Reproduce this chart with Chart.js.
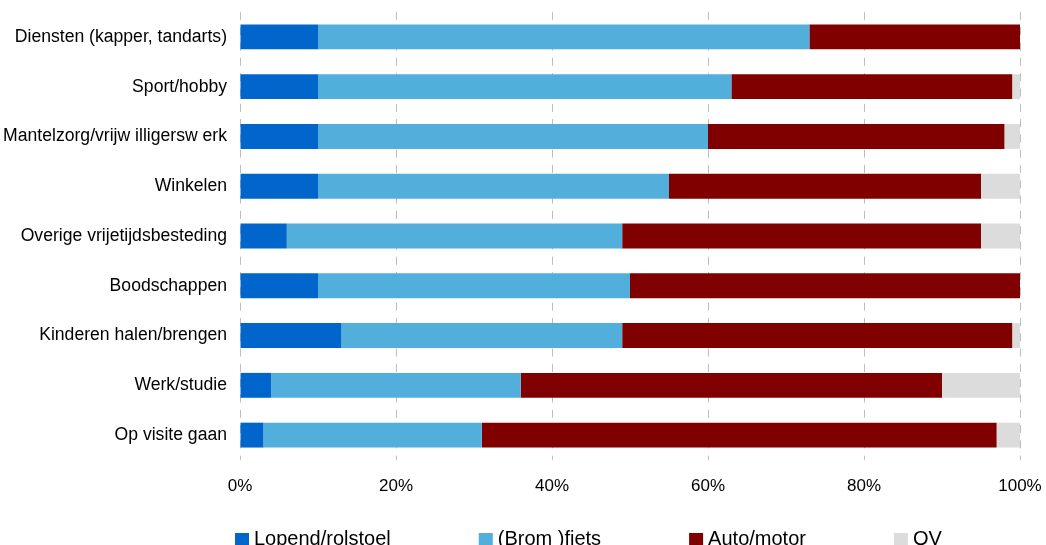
<!DOCTYPE html>
<html>
<head>
<meta charset="utf-8">
<script src="https://cdn.jsdelivr.net/npm/chart.js@4/dist/chart.umd.min.js"></script>
<style>
  html, body { margin: 0; padding: 0; background: #fff; }
  #wrap { width: 1046px; height: 545px; position: relative; }
</style>
</head>
<body>
<div id="wrap"><canvas id="c" width="1046" height="545"></canvas></div>
<script>
const categories = [
  'Diensten (kapper, tandarts)',
  'Sport/hobby',
  'Mantelzorg/vrijw illigersw erk',
  'Winkelen',
  'Overige vrijetijdsbesteding',
  'Boodschappen',
  'Kinderen halen/brengen',
  'Werk/studie',
  'Op visite gaan'
];
const seriesNames = ['Lopend/rolstoel', '(Brom )fiets', 'Auto/motor', 'OV'];
const lopend = [10, 10, 10, 10, 6, 10, 13, 4, 3];
const fiets  = [63, 53, 50, 45, 43, 40, 36, 32, 28];
const auto   = [27, 36, 38, 40, 46, 50, 50, 54, 66];
const ov     = [0, 1, 2, 5, 5, 0, 1, 10, 3];
const xTicks = [0, 20, 40, 60, 80, 100];

const colors = ['#0066CC', '#52AFDC', '#800000', '#DCDCDC'];
const FONT = '"Liberation Sans", Arial, sans-serif';

const legendPlugin = {
  id: 'customLegend',
  afterDraw(chart) {
    const ctx = chart.ctx;
    ctx.save();
    ctx.font = '20px ' + FONT;
    ctx.textBaseline = 'alphabetic';
    ctx.textAlign = 'left';
    let x = 235;
    const boxTop = 533, box = 14, textY = 545, gap = 88;
    chart.data.datasets.forEach(ds => {
      ctx.fillStyle = ds.backgroundColor;
      ctx.fillRect(x, boxTop, box, box);
      ctx.fillStyle = '#000';
      const tx = x + box + 5;
      ctx.fillText(ds.label, tx, textY);
      x = tx + ctx.measureText(ds.label).width + gap;
    });
    ctx.restore();
  }
};

new Chart(document.getElementById('c'), {
  type: 'bar',
  data: {
    labels: categories,
    datasets: [lopend, fiets, auto, ov].map((d, i) => ({
      label: seriesNames[i],
      data: d,
      backgroundColor: colors[i],
      borderWidth: 0,
      barPercentage: 0.5,
      categoryPercentage: 1.0
    }))
  },
  options: {
    indexAxis: 'y',
    responsive: false,
    animation: false,
    devicePixelRatio: 1,
    layout: { padding: { top: 12, right: 26, left: 0, bottom: 0 } },
    plugins: {
      legend: { display: false },
      tooltip: { enabled: false }
    },
    scales: {
      x: {
        stacked: true,
        min: 0,
        max: 100,
        afterBuildTicks(axis) { axis.ticks = xTicks.map(v => ({ value: v })); },
        afterFit(axis) {
          axis.height = 85;
          axis.paddingLeft = 0;
          axis.paddingRight = 0;
        },
        ticks: {
          callback: v => v + '%',
          color: '#000',
          font: { family: FONT, size: 17 },
          padding: 16,
          maxRotation: 0
        },
        grid: { color: '#BDBDBD', lineWidth: 1, drawTicks: false },
        border: { display: false, dash: [8, 7.3] }
      },
      y: {
        stacked: true,
        afterFit(axis) {
          axis.width = 240;
          axis.paddingTop = 0;
          axis.paddingBottom = 0;
        },
        ticks: {
          color: '#000',
          font: { family: FONT, size: 17.6 },
          padding: 13
        },
        grid: { display: false, drawTicks: false },
        border: { display: false }
      }
    }
  },
  plugins: [legendPlugin]
});
</script>
</body>
</html>
